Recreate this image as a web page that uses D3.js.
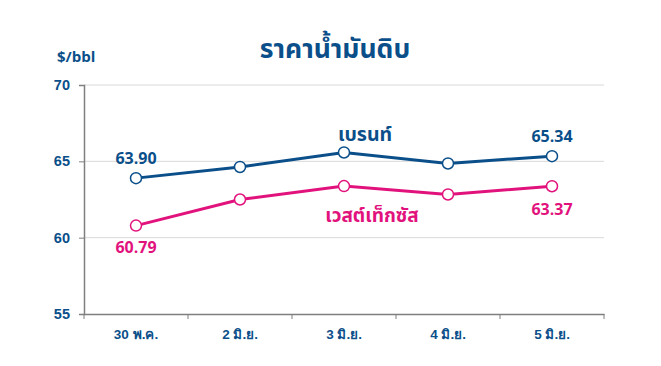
<!DOCTYPE html>
<html><head><meta charset="utf-8">
<script src="https://cdn.jsdelivr.net/npm/d3@7/dist/d3.min.js"></script>
<style>
body{margin:0;background:#fff;}
svg{font-family:"Noto Sans Thai","Noto Sans","DejaVu Sans",sans-serif;}
</style></head><body>
<svg id="c" width="661" height="366"></svg>
<script>
const categories = ["30 พ.ค.", "2 มิ.ย.", "3 มิ.ย.", "4 มิ.ย.", "5 มิ.ย."];
const brent = [63.90, 64.63, 65.58, 64.86, 65.34];
const wti = [60.79, 62.50, 63.38, 62.83, 63.37];
const yTicks = [55, 60, 65, 70];
const title = "ราคาน้ำมันดิบ";
const unitLabel = "$/bbl";
const brentName = "เบรนท์";
const wtiName = "เวสต์เท็กซัส";

const blue = "#0b4f8a", pink = "#e2127d";
const svg = d3.select("#c");
const x = d3.scaleBand().domain(categories).range([84, 604]);
const y = d3.scaleLinear().domain([55, 70]).range([314, 85]);

// grid
svg.append("g").selectAll("line").data(yTicks.filter(d => d > 55)).join("line")
  .attr("x1", 84).attr("x2", 604).attr("y1", d => y(d)).attr("y2", d => y(d))
  .attr("stroke", "#d9d9d9").attr("stroke-width", 1);

// y axis
const ya = svg.append("g").attr("transform", "translate(84,0)")
  .call(d3.axisLeft(y).tickValues(yTicks).tickSize(5).tickPadding(9));
ya.select(".domain").attr("stroke", "#7f7f7f").attr("stroke-width", 1.5);
ya.selectAll(".tick line").attr("stroke", "#7f7f7f");
ya.selectAll("text").attr("fill", blue).attr("font-size", 14.5).attr("font-weight", "bold")
  .attr("font-family", "inherit");

// x axis
const xa = svg.append("g").attr("transform", "translate(0,314)")
  .call(d3.axisBottom(x).tickSize(0).tickPadding(15));
xa.select(".domain").attr("stroke", "#7f7f7f").attr("stroke-width", 1.5);
xa.selectAll("text").attr("fill", blue).attr("font-size", 13.5).attr("font-weight", "bold")
  .attr("font-family", "inherit");
const bounds = [...categories.map(c => x(c)), x.range()[1]];
svg.append("g").selectAll("line").data(bounds).join("line")
  .attr("x1", d => d).attr("x2", d => d).attr("y1", 314).attr("y2", 319)
  .attr("stroke", "#7f7f7f");

const cx = c => x(c) + x.bandwidth() / 2;
function series(vals, color) {
  const line = d3.line().x((d, i) => cx(categories[i])).y(d => y(d));
  svg.append("path").datum(vals).attr("d", line).attr("fill", "none")
    .attr("stroke", color).attr("stroke-width", 3);
  svg.append("g").selectAll("circle").data(vals).join("circle")
    .attr("cx", (d, i) => cx(categories[i])).attr("cy", d => y(d)).attr("r", 5.5)
    .attr("fill", "#fff").attr("stroke", color).attr("stroke-width", 1.5);
}
series(brent, blue);
series(wti, pink);

function label(t, xx, yy, color, size, anchor) {
  svg.append("text").attr("x", xx).attr("y", yy).attr("fill", color)
    .attr("font-size", size).attr("font-weight", "bold")
    .attr("text-anchor", anchor || "middle").text(t);
}
label(brent[0].toFixed(2), cx(categories[0]), y(brent[0]) - 14, blue, 16);
label(wti[0].toFixed(2), cx(categories[0]), y(wti[0]) + 27, pink, 16);
label(brent[4].toFixed(2), cx(categories[4]), y(brent[4]) - 14, blue, 16);
label(wti[4].toFixed(2), cx(categories[4]), y(wti[4]) + 29, pink, 16);
label(brentName, 365, 141, blue, 19.5);
label(wtiName, 372, 222, pink, 19);

label(title, 335, 58, blue, 26.5);
label(unitLabel, 57, 62, blue, 15, "start");
</script></body></html>
